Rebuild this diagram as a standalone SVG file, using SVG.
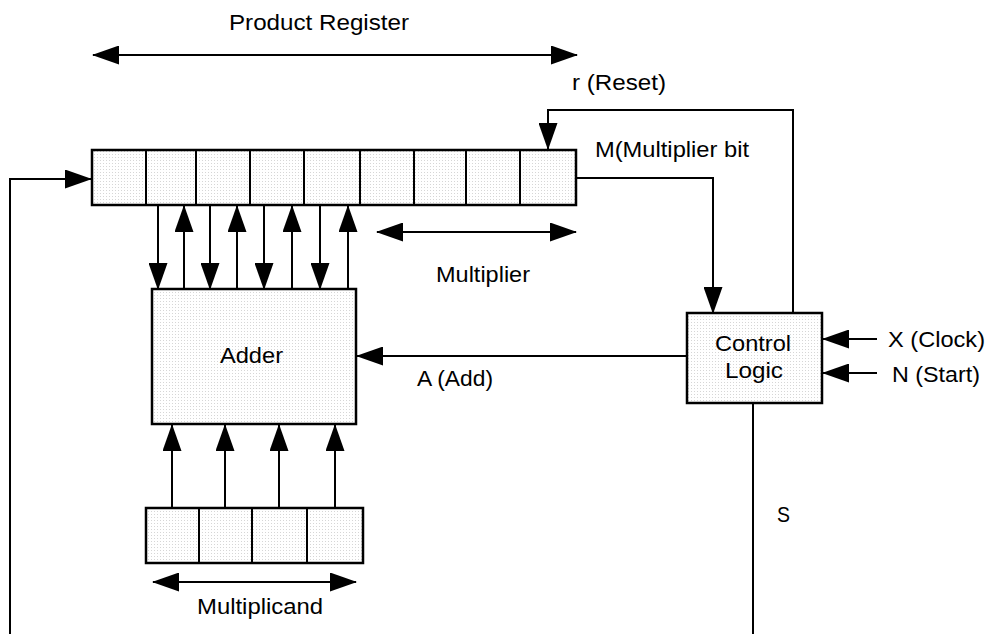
<svg xmlns="http://www.w3.org/2000/svg" width="991" height="634" viewBox="0 0 991 634">
  <defs>
    <!-- light stipple used to fill the register cells and blocks -->
    <pattern id="stipple" width="3" height="3" patternUnits="userSpaceOnUse">
      <rect width="3" height="3" fill="#ffffff"/>
      <rect x="1" y="1" width="1" height="1" fill="#d6d6d6"/>
    </pattern>
    <marker id="head" markerUnits="userSpaceOnUse" markerWidth="27" markerHeight="19" viewBox="0 0 27 19" refX="26" refY="9.5" orient="auto-start-reverse">
      <path d="M0,0 L27,9.5 L0,19 Z" fill="#000"/>
    </marker>
    <style>
      .box { fill: url(#stipple); stroke: #000; stroke-width: 2.5; }
      .wire { fill: none; stroke: #000; stroke-width: 2; }
      .arr { marker-end: url(#head); }
      .dbl { marker-start: url(#head); marker-end: url(#head); }
      text { font-family: "Liberation Sans", Arial, sans-serif; font-size: 22px; fill: #000; }
    </style>
  </defs>

  <rect width="991" height="634" fill="#ffffff"/>

  <!-- product register: nine cells -->
  <g id="product-register">
    <rect class="box" x="92" y="150" width="484" height="55"/>
    <path class="wire" d="M146,150V205M196,150V205M250,150V205M304,150V205M360,150V205M414,150V205M466,150V205M520,150V205" stroke-width="2.5"/>
  </g>

  <g id="adder">
    <rect class="box" x="152" y="289" width="204" height="135"/>
    <text x="220" y="363" textLength="63" lengthAdjust="spacingAndGlyphs">Adder</text>
  </g>

  <!-- multiplicand register: four cells -->
  <g id="multiplicand-register">
    <rect class="box" x="146" y="508" width="217" height="55"/>
    <path class="wire" d="M199,508V563M252,508V563M307,508V563" stroke-width="2.5"/>
  </g>

  <g id="control-logic">
    <rect class="box" x="687" y="313" width="135" height="90"/>
    <text x="715" y="351" textLength="76" lengthAdjust="spacingAndGlyphs">Control</text>
    <text x="725" y="378" textLength="58" lengthAdjust="spacingAndGlyphs">Logic</text>
  </g>

  <g id="connectors">
    <!-- span arrows -->
    <line class="wire dbl" x1="93" y1="55" x2="577" y2="55"/>
    <line class="wire dbl" x1="377" y1="232" x2="576" y2="232"/>
    <line class="wire dbl" x1="153" y1="582" x2="356" y2="582"/>

    <!-- register to adder -->
    <line class="wire arr" x1="158" y1="205" x2="158" y2="289"/>
    <line class="wire arr" x1="210" y1="205" x2="210" y2="289"/>
    <line class="wire arr" x1="264" y1="205" x2="264" y2="289"/>
    <line class="wire arr" x1="320" y1="205" x2="320" y2="289"/>
    <!-- adder to register -->
    <line class="wire arr" x1="184" y1="289" x2="184" y2="206"/>
    <line class="wire arr" x1="237" y1="289" x2="237" y2="206"/>
    <line class="wire arr" x1="292" y1="289" x2="292" y2="206"/>
    <line class="wire arr" x1="348" y1="289" x2="348" y2="206"/>

    <!-- multiplicand to adder -->
    <line class="wire arr" x1="172" y1="508" x2="172" y2="425"/>
    <line class="wire arr" x1="225" y1="508" x2="225" y2="425"/>
    <line class="wire arr" x1="279" y1="508" x2="279" y2="425"/>
    <line class="wire arr" x1="335" y1="508" x2="335" y2="425"/>

    <!-- multiplier bit to control -->
    <path class="wire arr" d="M576,178H713V313"/>
    <!-- reset from control back to register -->
    <path class="wire arr" d="M793,313V110H548V149"/>
    <!-- add command -->
    <line class="wire arr" x1="687" y1="356" x2="357" y2="356"/>
    <!-- clock and start inputs -->
    <line class="wire arr" x1="877" y1="339" x2="823" y2="339"/>
    <line class="wire arr" x1="877" y1="373" x2="823" y2="373"/>
    <!-- S output -->
    <line class="wire" x1="753" y1="403" x2="753" y2="634"/>
    <!-- feedback into register -->
    <path class="wire arr" d="M10,634V179H91"/>
  </g>

  <g id="labels">
    <text x="229" y="30" textLength="180" lengthAdjust="spacingAndGlyphs">Product Register</text>
    <text x="572" y="90" textLength="94" lengthAdjust="spacingAndGlyphs">r (Reset)</text>
    <text x="595" y="157" textLength="154" lengthAdjust="spacingAndGlyphs">M(Multiplier bit</text>
    <text x="436" y="282" textLength="94" lengthAdjust="spacingAndGlyphs">Multiplier</text>
    <text x="417" y="386" textLength="76" lengthAdjust="spacingAndGlyphs">A (Add)</text>
    <text x="888" y="347" textLength="97" lengthAdjust="spacingAndGlyphs">X (Clock)</text>
    <text x="892" y="382" textLength="88" lengthAdjust="spacingAndGlyphs">N (Start)</text>
    <text x="777" y="522" textLength="13" lengthAdjust="spacingAndGlyphs">S</text>
    <text x="197" y="614" textLength="126" lengthAdjust="spacingAndGlyphs">Multiplicand</text>
  </g>
</svg>
